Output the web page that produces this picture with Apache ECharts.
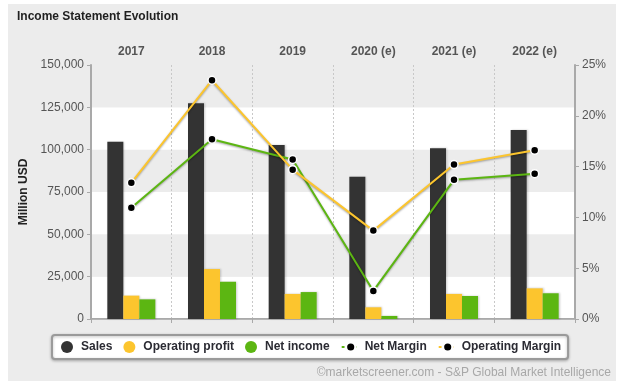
<!DOCTYPE html>
<html>
<head>
<meta charset="utf-8">
<script src="https://cdn.jsdelivr.net/npm/echarts@6/dist/echarts.min.js"></script>
<style>
html,body{margin:0;padding:0;background:#fff;}
#chart{width:620px;height:386px;}
</style>
</head>
<body>
<div id="chart"></div>
<script>
// ---- data ----
var categories = ['2017', '2018', '2019', '2020 (e)', '2021 (e)', '2022 (e)'];
var sales = [104700, 127400, 102800, 84000, 100800, 111600];
var operatingProfit = [13800, 29500, 14800, 6900, 14800, 18100];
var netIncome = [11600, 22000, 15900, 1800, 13600, 15200];
var netMargin = [10.95, 17.7, 15.7, 2.76, 13.7, 14.3];
var operatingMargin = [13.4, 23.5, 14.7, 8.7, 15.2, 16.6];
var leftTicks = { min: 0, max: 150000, interval: 25000 };
var rightTicks = { min: 0, max: 25, interval: 5 };

var FONT = '"Liberation Sans", Arial, sans-serif';
var C_SALES = '#333333', C_OP = '#fcc52e', C_NET = '#5cb612';

var chart = echarts.init(document.getElementById('chart'), null, { renderer: 'canvas' });

var lineShadow = { shadowColor: 'rgba(0,0,0,0.35)', shadowBlur: 2, shadowOffsetY: 1 };

chart.setOption({
  backgroundColor: '#ffffff',
  animation: false,
  textStyle: { fontFamily: FONT },
  graphic: [{
    type: 'rect', z: -10, silent: true,
    shape: { x: 8, y: 4, width: 608, height: 377 },
    style: { fill: '#ececec' }
  }],
  title: [{
    text: 'Income Statement Evolution',
    left: 12, top: 6,
    textStyle: { fontFamily: FONT, fontSize: 12, fontWeight: 'bold', color: '#1f1f1f' }
  }, {
    text: '\u00a9marketscreener.com - S&P Global Market Intelligence',
    right: 4, top: 362,
    textStyle: { fontFamily: FONT, fontSize: 12, fontWeight: 'normal', color: '#a8a8a8' }
  }],
  legend: {
    left: 52, top: 335,
    padding: [6, 7, 6, 9],
    itemWidth: 18, itemHeight: 12, itemGap: 11,
    backgroundColor: '#ffffff',
    borderColor: '#9a9a9a', borderWidth: 2, borderRadius: 3,
    shadowColor: 'rgba(0,0,0,0.25)', shadowBlur: 3, shadowOffsetY: 1,
    textStyle: { fontFamily: FONT, fontSize: 12, fontWeight: 'bold', color: '#2b2b33' },
    data: [
      { name: 'Sales', icon: 'circle' },
      { name: 'Operating profit', icon: 'circle' },
      { name: 'Net income', icon: 'circle' },
      { name: 'Net Margin', lineStyle: { type: [3, 3], width: 2, shadowBlur: 0 }, itemStyle: { borderColor: '#fff', borderWidth: 2.5 } },
      { name: 'Operating Margin', lineStyle: { type: [3, 3], width: 2, shadowBlur: 0 }, itemStyle: { borderColor: '#fff', borderWidth: 2.5 } }
    ]
  },
  grid: { left: 91, right: 45, top: 65, bottom: 67, containLabel: false },
  xAxis: [{
    type: 'category', data: categories, position: 'bottom',
    axisLine: { show: true, lineStyle: { color: '#a9a9a9', width: 2 } },
    axisTick: { show: true, length: 4, lineStyle: { color: '#a9a9a9' } },
    axisLabel: { show: false },
    splitLine: { show: true, lineStyle: { color: '#c8c8c8', type: [2, 2], width: 1 } }
  }, {
    type: 'category', data: categories, position: 'top',
    axisLine: { show: true, lineStyle: { color: '#b5b5b5', width: 1 } },
    axisTick: { show: false },
    axisLabel: { show: true, margin: 7, fontFamily: FONT, fontSize: 12, fontWeight: 'bold', color: '#555555' },
    splitLine: { show: false }
  }],
  yAxis: [{
    type: 'value', position: 'left',
    min: leftTicks.min, max: leftTicks.max, interval: leftTicks.interval,
    name: 'Million USD', nameLocation: 'middle', nameGap: 56, nameRotate: 90,
    nameTextStyle: { fontFamily: FONT, fontSize: 12, fontWeight: 'bold', color: '#222' },
    axisLine: { show: true, lineStyle: { color: '#a9a9a9', width: 2 } },
    axisTick: { show: true, length: 4, lineStyle: { color: '#a9a9a9' } },
    axisLabel: { margin: 7, fontFamily: FONT, fontSize: 12, color: '#555555',
      formatter: function (v) { return v.toLocaleString('en-US'); } },
    splitLine: { show: false },
    splitArea: { show: true, areaStyle: { color: ['#ffffff', '#ececec'] } }
  }, {
    type: 'value', position: 'right',
    min: rightTicks.min, max: rightTicks.max, interval: rightTicks.interval,
    axisLine: { show: true, lineStyle: { color: '#a9a9a9', width: 2 } },
    axisTick: { show: true, length: 4, lineStyle: { color: '#a9a9a9' } },
    axisLabel: { margin: 7, fontFamily: FONT, fontSize: 12, color: '#555555', formatter: '{value}%' },
    splitLine: { show: false },
    splitArea: { show: false }
  }],
  series: [{
    name: 'Sales', type: 'bar', xAxisIndex: 0, yAxisIndex: 0,
    barWidth: 16, barGap: '0%',
    itemStyle: { color: C_SALES, shadowColor: 'rgba(0,0,0,0.2)', shadowBlur: 2, shadowOffsetX: 1 },
    data: sales
  }, {
    name: 'Operating profit', type: 'bar', xAxisIndex: 0, yAxisIndex: 0,
    barWidth: 16, barGap: '0%',
    itemStyle: { color: C_OP, shadowColor: 'rgba(0,0,0,0.2)', shadowBlur: 2, shadowOffsetX: 1 },
    data: operatingProfit
  }, {
    name: 'Net income', type: 'bar', xAxisIndex: 0, yAxisIndex: 0,
    barWidth: 16, barGap: '0%',
    itemStyle: { color: C_NET, shadowColor: 'rgba(0,0,0,0.2)', shadowBlur: 2, shadowOffsetX: 1 },
    data: netIncome
  }, {
    name: 'Net Margin', type: 'line', xAxisIndex: 0, yAxisIndex: 1,
    symbol: 'circle', symbolSize: 8,
    lineStyle: Object.assign({ color: C_NET, width: 2 }, lineShadow),
    itemStyle: { color: '#000', borderColor: '#fff', borderWidth: 1.5 },
    data: netMargin
  }, {
    name: 'Operating Margin', type: 'line', xAxisIndex: 0, yAxisIndex: 1,
    symbol: 'circle', symbolSize: 8,
    lineStyle: Object.assign({ color: C_OP, width: 2 }, lineShadow),
    itemStyle: { color: '#000', borderColor: '#fff', borderWidth: 1.5 },
    data: operatingMargin
  }]
});
</script>
</body>
</html>
